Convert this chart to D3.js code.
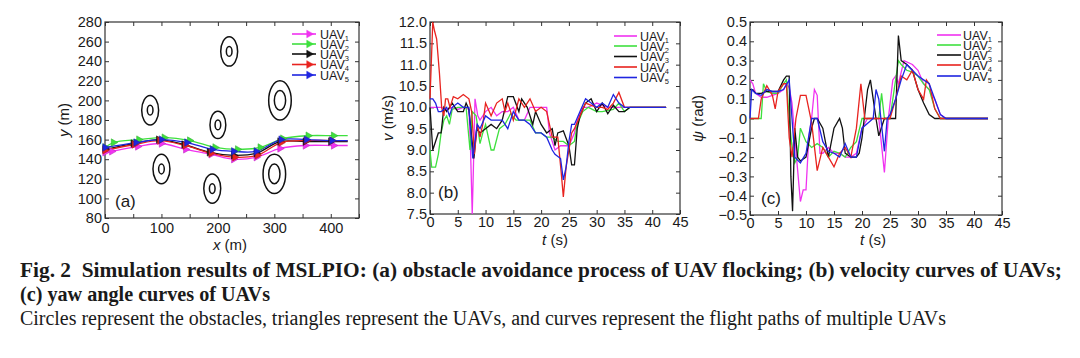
<!DOCTYPE html>
<html><head><meta charset="utf-8">
<script src="https://cdn.jsdelivr.net/npm/d3@7"></script>
<style>
html,body{margin:0;padding:0;background:#fff;}
svg{display:block;}
text{font-family:"Liberation Sans",Arial,sans-serif;fill:#1a1a1a;}
.cap{font-family:"Liberation Serif","Times New Roman",serif;white-space:pre;}
</style></head>
<body>
<svg id="chart" width="1080" height="358"></svg>
<script>
// ---------- DATA ----------
const uavLabels = ["1","2","3","4","5"];
// Panel (a) obstacles (concentric circles)
const obstacleX = [220, 80, 200, 310, 100, 190, 300];
const obstacleY = [250, 190, 175, 200, 130, 110, 125];
const obstacleOuterR = [15, 15, 14, 20, 15, 15, 20];
const obstacleInnerR = [5, 5, 5, 10, 5, 5, 10];
// Panel (a) flight paths [x, y]; a triangle sits on every point but the last
const path1 = [[0,147],[12,148],[58,153],[100,156],[143,150],[188,145],[228,140],[268,142],[310,151],[355,154],[405,154],[430,154]];
const path2 = [[0,152],[15,157],[60,160],[105,162],[150,159],[195,152],[235,150],[275,152],[315,161],[360,164],[405,164],[430,164]];
const path3 = [[0,150],[50,156],[95,160],[140,155],[185,147],[228,144],[268,146],[310,158],[355,158],[400,158],[430,158]];
const path4 = [[0,149],[52,155],[97,159],[142,154],[188,146],[230,142],[270,144],[312,157],[357,159],[402,159],[430,159]];
const path5 = [[0,152],[55,157],[100,160],[145,157],[190,150],[228,148],[268,148],[312,160],[357,160],[402,159],[430,159]];
// Panel (b) velocity [t, v]
const vel1 = [[0,10.0],[2,10.0],[3,9.95],[4,10.0],[5,9.95],[6,10.0],[7,9.95],[7.3,9.0],[7.6,7.5],[7.8,8.5],[8.1,10.2],[8.6,9.8],[9,9.7],[10,9.9],[11,10.0],[12,9.8],[13,9.9],[14,9.9],[15,10.0],[16,9.7],[17,9.7],[18,10.0],[21,10.0],[21.5,9.4],[22.5,9.0],[23.5,9.1],[25,9.1],[26,9.4],[26.5,9.7],[27.5,10.0],[28.5,10.0],[30,10.1],[32,10.0],[35,10.0],[42.5,10.0]];
const vel2 = [[0,9.0],[0.3,8.6],[1,8.6],[1.5,8.9],[2,9.4],[2.5,9.7],[3,9.8],[3.5,9.6],[4,9.95],[5,10.0],[6.5,10.0],[7.2,9.0],[7.6,9.9],[8.3,9.8],[9,9.15],[9.5,9.4],[10,9.6],[11,9.0],[11.5,9.0],[12.5,9.5],[13.5,9.6],[14.5,9.85],[15.5,9.7],[17,9.7],[18,9.7],[19,9.4],[20,9.4],[21,9.3],[22,9.3],[23,9.2],[24,9.2],[25,9.1],[26,9.2],[26.5,9.6],[27.5,9.9],[28.5,10.0],[30,9.9],[31,9.9],[33,9.95],[34,10.1],[35,9.9],[36,10.0],[42.5,10.0]];
const vel3 = [[0,10.0],[0.5,9.0],[1,9.2],[1.5,9.4],[2,9.4],[2.5,10.0],[3,9.9],[4,10.1],[5,9.9],[6,9.9],[6.5,10.1],[7,9.95],[7.9,8.8],[8.4,9.5],[9,9.4],[10,9.5],[11,9.6],[12,9.5],[13,9.7],[14,10.25],[15,10.25],[16,9.9],[16.5,10.2],[17.5,10.0],[18.5,9.6],[19,9.9],[20,9.6],[21,9.4],[22,9.5],[22.5,9.1],[23,9.4],[24,9.45],[25,9.1],[25.5,8.65],[26,8.65],[26.5,9.5],[27,9.8],[28,10.1],[29,10.2],[30,9.9],[31,10.1],[32,9.85],[33,10.05],[34,9.9],[35,9.9],[36,10.0],[42.5,10.0]];
const vel4 = [[0,10.2],[0.5,12.0],[0.8,11.8],[1.2,11.6],[1.7,10.8],[2.1,10.0],[2.5,9.8],[2.8,10.2],[3.2,10.2],[3.6,10.0],[4.2,10.25],[5,10.2],[6,10.3],[7,10.2],[7.5,9.9],[8,8.9],[8.5,9.6],[9,9.3],[9.5,9.6],[10,10.1],[11,9.8],[12,10.1],[13,10.2],[13.5,9.9],[14,10.1],[15,9.7],[16,10.2],[17,10.0],[18,10.2],[19,9.9],[20,10.0],[21,9.9],[22,9.3],[23,9.3],[23.6,8.5],[24,7.9],[24.5,8.6],[25.5,9.4],[26,9.5],[27,9.8],[28,10.1],[30,10.0],[31,10.0],[32,9.95],[33,10.1],[34,10.35],[35,10.0],[36,10.0],[42.5,10.0]];
const vel5 = [[0,10.2],[0.5,10.2],[1,10.1],[1.5,9.9],[2,9.9],[3,10.0],[3.5,9.8],[4,10.0],[5,10.1],[6,10.0],[7,10.0],[7.7,8.8],[8.5,9.6],[9,9.5],[10,9.8],[11,9.7],[12,9.7],[13,9.7],[14,9.5],[15,9.9],[16,9.7],[17,9.7],[18,9.6],[19,9.4],[20,9.4],[21,9.3],[22,9.0],[22.5,8.9],[23.5,8.8],[24,8.3],[24.5,8.6],[25,9.2],[25.5,9.6],[26,9.6],[27,9.9],[28,10.2],[29,10.1],[30,10.0],[31,10.1],[32,10.0],[33,10.3],[34,10.1],[35,10.0],[42.5,10.0]];
// Panel (c) yaw [t, psi]
const yaw1 = [[0,0.2],[0.5,0.18],[1,0.13],[2,0.11],[3,0.11],[4,0.12],[5,0.13],[6,0.15],[6.5,0.18],[7,0.16],[7.5,0.08],[8.3,-0.2],[9,-0.43],[9.5,-0.37],[10,-0.37],[10.5,-0.1],[11,0.0],[11.5,0.15],[12,0.12],[12.5,-0.18],[13,-0.18],[14,-0.15],[15,-0.18],[16,-0.18],[17,-0.2],[18,-0.2],[19,-0.18],[20,-0.05],[21,0.0],[23,0.0],[24,-0.28],[24.7,0.0],[25.5,0.2],[26,0.22],[26.5,0.18],[27.5,0.3],[29,0.28],[30,0.25],[31,0.18],[32,0.15],[33,0.1],[34,0.02],[35,0],[42.5,0]];
const yaw2 = [[0,0],[2,0],[2.4,0.18],[3,0.14],[4,0.13],[5,0.13],[6,0.18],[6.5,0.2],[7,0.0],[7.5,-0.15],[8,-0.23],[8.5,-0.2],[9,-0.05],[10,-0.12],[11,-0.15],[12,-0.13],[13,-0.15],[14,-0.2],[15,-0.17],[16,-0.18],[17,-0.2],[18,-0.15],[19,-0.12],[20,0.0],[23,0.0],[23.5,0.13],[24,0.0],[25,0.0],[26,0.2],[26.5,0.3],[27,0.28],[28,0.25],[29,0.24],[30,0.22],[31,0.18],[32,0.15],[33,0.05],[34,0.0],[42.5,0]];
const yaw3 = [[0,0.15],[0.5,0.15],[1,0.13],[2,0.13],[3,0.14],[4,0.14],[5,0.14],[6,0.2],[6.5,0.22],[7,0.22],[7.3,-0.3],[7.6,-0.48],[8,-0.05],[8.5,-0.2],[9,-0.22],[10,-0.2],[11,-0.05],[11.5,0.0],[12,0.0],[13,-0.05],[14,-0.2],[15,-0.05],[16,0.0],[16.5,-0.05],[17,-0.18],[18,-0.2],[19,-0.2],[19.5,-0.18],[20,-0.1],[21,0.15],[21.5,0.2],[22,0.1],[22.5,0.0],[23,-0.09],[24,0.0],[26,0.0],[26.5,0.43],[27,0.3],[28,0.28],[29,0.25],[30,0.15],[31,0.08],[32,0.02],[33,0.0],[42.5,0]];
const yaw4 = [[0,0],[1.5,0],[2,0.1],[3,0.17],[4,0.12],[4.5,0.05],[5,0.14],[6,0.18],[6.5,0.18],[7,-0.1],[7.5,-0.2],[8.2,0.0],[9,0.12],[10,0.12],[11,-0.02],[12,-0.27],[13,-0.15],[14,-0.2],[15,-0.25],[16,-0.18],[17,-0.15],[18,-0.2],[19,-0.05],[19.8,0.18],[20.5,0.0],[25,0.0],[26,0.1],[27,0.22],[28,0.2],[29,0.25],[30,0.15],[31,0.1],[31.5,0.2],[32,0.18],[33,0.05],[34,0.0],[42.5,0]];
const yaw5 = [[0,0.0],[0.3,0.15],[1,0.13],[2,0.12],[3,0.15],[4,0.14],[5,0.14],[6,0.15],[7,0.2],[7.5,0.0],[8,-0.2],[9,-0.23],[10,-0.18],[11,0.0],[12,0.0],[13,-0.12],[14,-0.17],[15,-0.18],[16,-0.2],[17,-0.13],[18,-0.2],[19,-0.2],[20,-0.05],[22,0.0],[22.5,0.15],[23,0.1],[24,-0.17],[24.5,0.0],[25,0.02],[26,0.1],[27,0.2],[28,0.28],[29,0.25],[30,0.22],[31,0.2],[32,0.18],[33,0.1],[34,0.02],[35,0.0],[42.5,0]];
// Ticks
const xTicksA = [0,50,100,150,200,250,300,350,400,450];
const xTickLabelsA = [0,100,200,300,400];
const yTicksA = [80,100,120,140,160,180,200,220,240,260,280];
const tTicks = [0,5,10,15,20,25,30,35,40,45];
const vTicks = [7.5,8.0,8.5,9.0,9.5,10.0,10.5,11.0,11.5,12.0];
const psiTicks = [-0.5,-0.4,-0.3,-0.2,-0.1,0,0.1,0.2,0.3,0.4,0.5];
const captionLines = [
  "Fig. 2  Simulation results of MSLPIO: (a) obstacle avoidance process of UAV flocking; (b) velocity curves of UAVs;",
  "(c) yaw angle curves of UAVs",
  "Circles represent the obstacles, triangles represent the UAVs, and curves represent the flight paths of multiple UAVs"
];

// ---------- STYLE ----------
const colors = ["#f032f0", "#3ee03e", "#111111", "#e8231f", "#1f25e0"];
const svg = d3.select("#chart");

function makeAxes(gg, xs, ys, W, H, xTicks, yTicks, xFmt, yFmt, padB) {
  const bottom = d3.axisBottom(xs).tickValues(xTicks).tickSize(-4).tickPadding(padB).tickFormat(xFmt);
  const top = d3.axisTop(xs).tickValues(xTicks).tickSize(-4).tickFormat("");
  const left = d3.axisLeft(ys).tickValues(yTicks).tickSize(-4).tickPadding(3).tickFormat(yFmt);
  const right = d3.axisRight(ys).tickValues(yTicks).tickSize(-4).tickFormat("");
  const style = s => {
    s.select(".domain").remove();
    s.selectAll(".tick line").attr("stroke", "#333").attr("stroke-width", 1);
    s.selectAll(".tick text").attr("font-size", 14.5).attr("fill", "#1a1a1a")
      .attr("font-family", "'Liberation Sans', Arial, sans-serif");
  };
  gg.append("g").attr("transform", `translate(0,${H})`).call(bottom).call(style);
  gg.append("g").call(top).call(style);
  gg.append("g").call(left).call(style);
  gg.append("g").attr("transform", `translate(${W},0)`).call(right).call(style);
  gg.append("rect").attr("width", W).attr("height", H).attr("fill", "none")
    .attr("stroke", "#333").attr("stroke-width", 1.2);
}

function legend(gg, lx0, lx1, tx, rows, withMarker) {
  uavLabels.forEach((lab, i) => {
    const y = rows[i];
    gg.append("line").attr("x1", lx0).attr("x2", lx1).attr("y1", y).attr("y2", y)
      .attr("stroke", colors[i]).attr("stroke-width", 1.6);
    if (withMarker) {
      gg.append("path").attr("d", d3.symbol(d3.symbolTriangle, 26)())
        .attr("transform", `translate(${lx1 - 7},${y}) rotate(90)`)
        .attr("fill", colors[i]).attr("stroke", colors[i]).attr("stroke-width", 0.5);
    }
    const t = gg.append("text").attr("x", tx).attr("y", y + 4.5).attr("font-size", 12.5).attr("fill", "#333");
    t.append("tspan").text("UAV");
    t.append("tspan").attr("font-size", 7.5).attr("dy", 2).text(lab);
  });
}

const minus = s => s.replace("-", "\u2212");

// ---------- PANEL (a) ----------
{
  const x0 = 105, x1 = 359, y0 = 22, y1 = 218;
  const W = x1 - x0, H = y1 - y0;
  const gg = svg.append("g").attr("transform", `translate(${x0},${y0})`);
  const xs = d3.scaleLinear().domain([0, 450]).range([0, W]);
  const ys = d3.scaleLinear().domain([80, 280]).range([H, 0]);
  makeAxes(gg, xs, ys, W, H, xTicksA, yTicksA,
    d => xTickLabelsA.includes(d) ? d : "", d => d, 5);
  obstacleX.forEach((cx, i) => {
    [obstacleOuterR[i], obstacleInnerR[i]].forEach(r => {
      gg.append("ellipse").attr("cx", xs(cx)).attr("cy", ys(obstacleY[i]))
        .attr("rx", xs(cx + r) - xs(cx)).attr("ry", ys(obstacleY[i] - r) - ys(obstacleY[i]))
        .attr("fill", "none").attr("stroke", "#111").attr("stroke-width", 1.5);
    });
  });
  const line = d3.line().x(d => xs(d[0])).y(d => ys(d[1])).curve(d3.curveCatmullRom);
  [path1, path2, path3, path4, path5].forEach((p, i) => {
    gg.append("path").attr("d", line(p)).attr("fill", "none").attr("stroke", colors[i]).attr("stroke-width", 1.3);
  });
  [path1, path2, path3, path4, path5].forEach((p, i) => {
    gg.selectAll(null).data(p.slice(0, -1)).enter().append("path")
      .attr("d", d3.symbol(d3.symbolTriangle, 24)())
      .attr("transform", d => `translate(${xs(d[0])},${ys(d[1])}) rotate(90)`)
      .attr("fill", colors[i]).attr("stroke", d3.color(colors[i]).darker(0.6)).attr("stroke-width", 0.6);
  });
  legend(gg, 292 - x0, 316 - x0, 320 - x0, [34 - y0, 44 - y0, 54 - y0, 64.5 - y0, 75 - y0], true);
  gg.append("text").attr("x", 115 - x0).attr("y", 207 - y0).attr("font-size", 17).text("(a)");
  svg.append("text").attr("transform", `translate(69,${(y0 + y1) / 2}) rotate(-90)`)
    .attr("text-anchor", "middle").attr("font-size", 15)
    .html('<tspan font-style="italic">y</tspan> (m)');
  svg.append("text").attr("x", (x0 + x1) / 2 - 2).attr("y", 250).attr("text-anchor", "middle").attr("font-size", 15)
    .html('<tspan font-style="italic">x</tspan> (m)');
}

// ---------- PANEL (b) ----------
{
  const x0 = 430, x1 = 680, y0 = 22, y1 = 214;
  const W = x1 - x0, H = y1 - y0;
  const gg = svg.append("g").attr("transform", `translate(${x0},${y0})`);
  const xs = d3.scaleLinear().domain([0, 45]).range([0, W]);
  const ys = d3.scaleLinear().domain([7.5, 12]).range([H, 0]);
  makeAxes(gg, xs, ys, W, H, tTicks, vTicks, d => d, d => d3.format(".1f")(d), 3);
  const line = d3.line().x(d => xs(d[0])).y(d => ys(d[1]));
  [vel1, vel2, vel3, vel4, vel5].forEach((p, i) => {
    gg.append("path").attr("d", line(p)).attr("fill", "none").attr("stroke", colors[i]).attr("stroke-width", 1.3);
  });
  legend(gg, 614 - x0, 637 - x0, 640 - x0, [36 - y0, 46 - y0, 56.5 - y0, 67 - y0, 77.5 - y0], false);
  gg.append("text").attr("x", 438 - x0).attr("y", 198 - y0).attr("font-size", 17).text("(b)");
  svg.append("text").attr("transform", `translate(393,${(y0 + y1) / 2}) rotate(-90)`)
    .attr("text-anchor", "middle").attr("font-size", 15)
    .html('<tspan font-style="italic">v</tspan> (m/s)');
  svg.append("text").attr("x", 555).attr("y", 245).attr("text-anchor", "middle").attr("font-size", 15)
    .html('<tspan font-style="italic">t</tspan> (s)');
}

// ---------- PANEL (c) ----------
{
  const x0 = 750, x1 = 1002, y0 = 22, y1 = 215;
  const W = x1 - x0, H = y1 - y0;
  const gg = svg.append("g").attr("transform", `translate(${x0},${y0})`);
  const xs = d3.scaleLinear().domain([0, 45]).range([0, W]);
  const ys = d3.scaleLinear().domain([-0.5, 0.5]).range([H, 0]);
  makeAxes(gg, xs, ys, W, H, tTicks, psiTicks, d => d,
    d => d === 0 ? "0" : minus(d3.format(".1f")(d)), 3);
  const line = d3.line().x(d => xs(d[0])).y(d => ys(d[1]));
  [yaw1, yaw2, yaw3, yaw4, yaw5].forEach((p, i) => {
    gg.append("path").attr("d", line(p)).attr("fill", "none").attr("stroke", colors[i]).attr("stroke-width", 1.3);
  });
  legend(gg, 937 - x0, 961 - x0, 963 - x0, [35 - y0, 45 - y0, 55 - y0, 65 - y0, 76 - y0], false);
  gg.append("text").attr("x", 761 - x0).attr("y", 204 - y0).attr("font-size", 17).text("(c)");
  svg.append("text").attr("transform", `translate(703,${(y0 + y1) / 2}) rotate(-90)`)
    .attr("text-anchor", "middle").attr("font-size", 15)
    .html('<tspan font-style="italic">ψ</tspan> (rad)');
  svg.append("text").attr("x", 873).attr("y", 245).attr("text-anchor", "middle").attr("font-size", 15)
    .html('<tspan font-style="italic">t</tspan> (s)');
}

// ---------- CAPTION ----------
const capSpecs = [
  {y: 277, w: 1042, bold: true},
  {y: 301, w: 250, bold: true},
  {y: 325, w: 926, bold: false}
];
captionLines.forEach((s, i) => {
  const c = capSpecs[i];
  svg.append("text").attr("class", "cap").attr("x", 20).attr("y", c.y)
    .attr("font-size", 20).attr("font-weight", c.bold ? "bold" : "normal")
    .attr("textLength", c.w).attr("lengthAdjust", "spacingAndGlyphs")
    .attr("fill", "#111").text(s);
});
</script>
</body></html>
